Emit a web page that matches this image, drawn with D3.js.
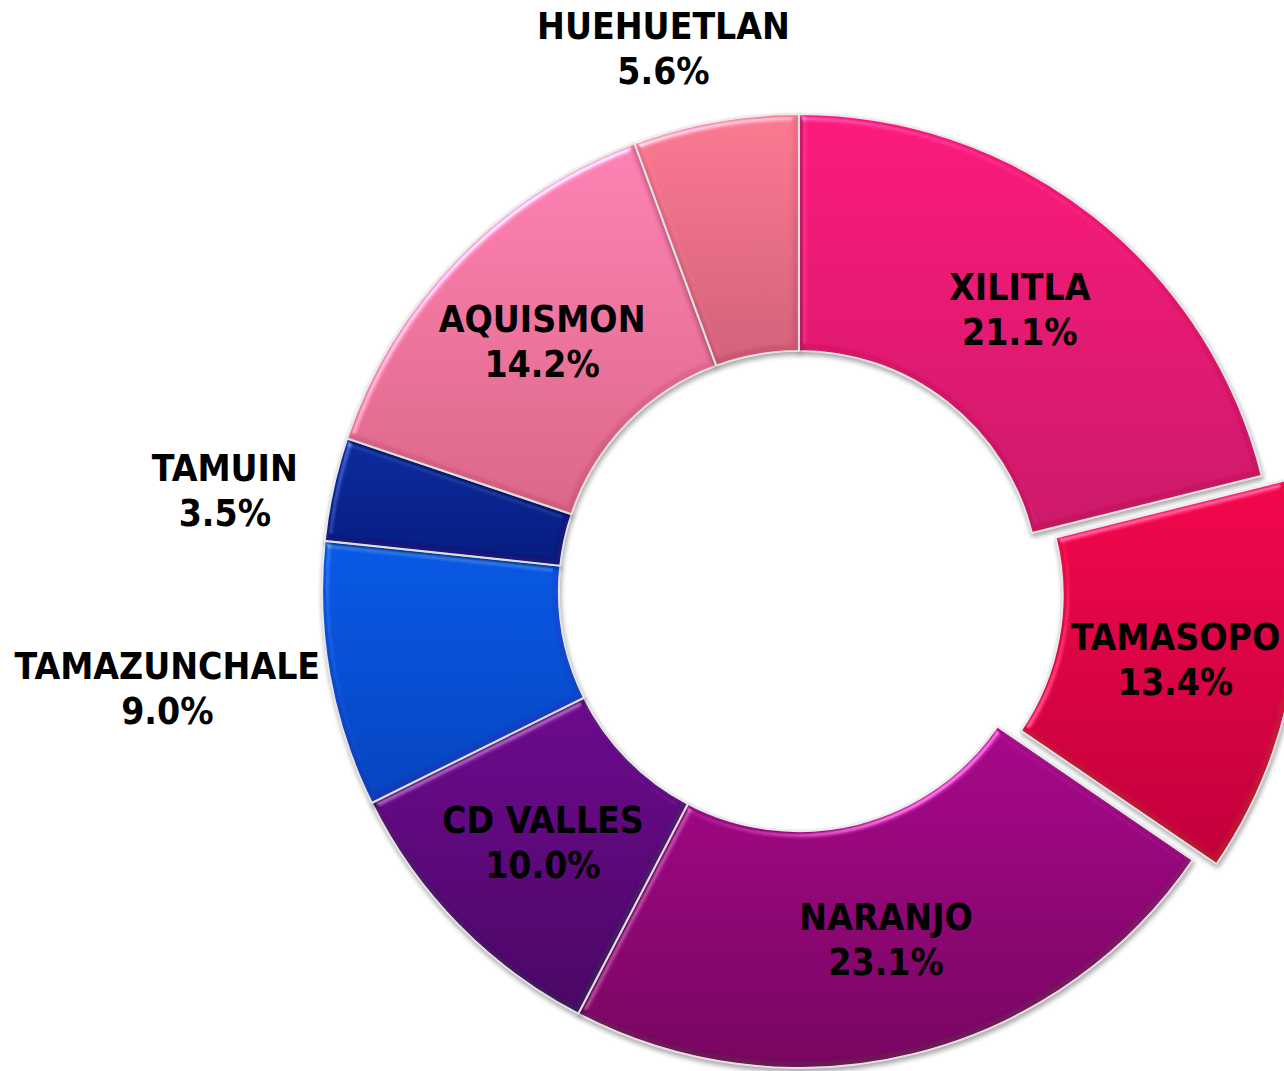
<!DOCTYPE html>
<html>
<head>
<meta charset="utf-8">
<script src="https://cdn.jsdelivr.net/npm/d3@7"></script>
<style>
  html, body { margin: 0; padding: 0; background: #fff; }
  svg { display: block; }
  .lbl { font-family: "DejaVu Sans Condensed", "DejaVu Sans", sans-serif; font-stretch: condensed;
         font-weight: bold; font-size: 37px; fill: #000; }
</style>
</head>
<body>
<div id="chart-area"></div>
<script>
// data (clockwise from 12 o'clock)
var municipios = ["XILITLA", "TAMASOPO", "NARANJO", "CD VALLES", "TAMAZUNCHALE", "TAMUIN", "AQUISMON", "HUEHUETLAN"];
var porcentajes = [21.1, 13.4, 23.1, 10.0, 9.0, 3.5, 14.2, 5.6];
var coloresArriba = ["#fd1b7b", "#f2084c", "#a8088c", "#6e0a8e", "#0a5ae6", "#0c2c9e", "#ff82b4", "#fc7a92"];
var coloresAbajo  = ["#cc1a6a", "#c2003c", "#780660", "#4a0866", "#0644c0", "#061c80", "#dc6888", "#d2627a"];
var separado = ["TAMASOPO"];

// labels moved out of the ring (radius, angle in degrees)
var etiquetasFuera = {
  "HUEHUETLAN": { r: 560, a: -14 },
  "TAMUIN": { r: 583, a: 280 },
  "TAMAZUNCHALE": { r: 639, a: 261.3 }
};

var width = 1284, height = 1071;
var cx = 799, cy = 591;
var outerR = 477, innerR = 240, explode = 24;

var svg = d3.select("#chart-area")
  .append("svg")
  .attr("width", width)
  .attr("height", height);

var defs = svg.append("defs");

// one vertical gradient per slice
municipios.forEach(function (m, i) {
  var grad = defs.append("linearGradient")
    .attr("id", "grad" + i)
    .attr("x1", 0).attr("y1", 0).attr("x2", 0).attr("y2", 1);
  grad.append("stop").attr("offset", "0%").attr("stop-color", coloresArriba[i]);
  grad.append("stop").attr("offset", "100%").attr("stop-color", coloresAbajo[i]);
});

// soft bevel + small shadow (sRGB so flat areas keep their colour)
var f = defs.append("filter").attr("id", "bevel")
  .attr("color-interpolation-filters", "sRGB")
  .attr("x", "-10%").attr("y", "-10%").attr("width", "120%").attr("height", "120%");
f.append("feGaussianBlur").attr("in", "SourceAlpha").attr("stdDeviation", 3.5).attr("result", "blur");
var spec = f.append("feSpecularLighting").attr("in", "blur")
  .attr("surfaceScale", 4).attr("specularConstant", 0.7).attr("specularExponent", 22)
  .attr("lighting-color", "#ffffff").attr("result", "spec");
spec.append("feDistantLight").attr("azimuth", 235).attr("elevation", 50);
f.append("feComposite").attr("in", "spec").attr("in2", "SourceAlpha").attr("operator", "in").attr("result", "specIn");
f.append("feComposite").attr("in", "SourceGraphic").attr("in2", "specIn").attr("operator", "arithmetic")
  .attr("k1", 0).attr("k2", 1).attr("k3", 0.8).attr("k4", -0.143).attr("result", "lit");
f.append("feOffset").attr("in", "SourceAlpha").attr("dx", 1).attr("dy", 3).attr("result", "off");
f.append("feGaussianBlur").attr("in", "off").attr("stdDeviation", 2.5).attr("result", "offBlur");
f.append("feComponentTransfer").attr("in", "offBlur").attr("result", "shadow")
  .append("feFuncA").attr("type", "linear").attr("slope", 0.35);
var merge = f.append("feMerge");
merge.append("feMergeNode").attr("in", "shadow");
merge.append("feMergeNode").attr("in", "lit");

var datos = municipios.map(function (m, i) {
  return { nombre: m, valor: porcentajes[i], idx: i };
});

var pie = d3.pie()
  .sort(null)
  .value(function (d) { return d.valor; });

var arc = d3.arc()
  .innerRadius(innerR)
  .outerRadius(outerR);

var arcs = pie(datos);

function desplazamiento(d) {
  if (separado.indexOf(d.data.nombre) < 0) return [0, 0];
  var a = (d.startAngle + d.endAngle) / 2;
  return [explode * Math.sin(a), -explode * Math.cos(a)];
}

var g = svg.append("g")
  .attr("transform", "translate(" + cx + "," + cy + ")");

g.selectAll("path.slice")
  .data(arcs)
  .enter()
  .append("path")
  .attr("class", "slice")
  .attr("transform", function (d) {
    var o = desplazamiento(d);
    return "translate(" + o[0] + "," + o[1] + ")";
  })
  .attr("d", arc)
  .attr("fill", function (d) { return "url(#grad" + d.data.idx + ")"; })
  .attr("stroke", "#ececec")
  .attr("stroke-width", 2.2)
  .attr("stroke-linejoin", "round")
  .attr("filter", "url(#bevel)");

// labels
var labelArc = d3.arc()
  .innerRadius((innerR + outerR) / 2)
  .outerRadius((innerR + outerR) / 2);

var fmt = d3.format(".1f");

var labels = g.selectAll("g.label")
  .data(arcs)
  .enter()
  .append("g")
  .attr("class", "label")
  .attr("transform", function (d) {
    var p;
    var fuera = etiquetasFuera[d.data.nombre];
    if (fuera) {
      var a = fuera.a * Math.PI / 180;
      p = [fuera.r * Math.sin(a), -fuera.r * Math.cos(a)];
    } else {
      p = labelArc.centroid(d);
      var o = desplazamiento(d);
      p = [p[0] + o[0], p[1] + o[1]];
    }
    return "translate(" + p[0] + "," + p[1] + ")";
  });

labels.append("text")
  .attr("class", "lbl")
  .attr("text-anchor", "middle")
  .attr("y", -9)
  .text(function (d) { return d.data.nombre; });

labels.append("text")
  .attr("class", "lbl")
  .attr("text-anchor", "middle")
  .attr("y", 36)
  .text(function (d) { return fmt(d.data.valor) + "%"; });
</script>
</body>
</html>
